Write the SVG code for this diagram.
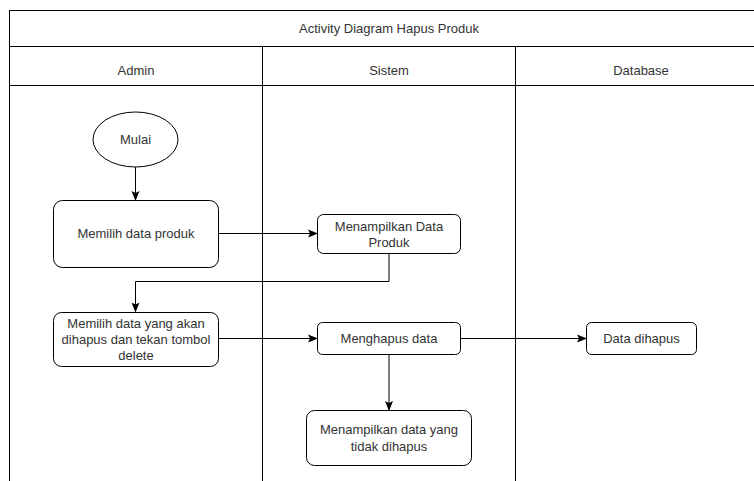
<svg xmlns="http://www.w3.org/2000/svg" width="754" height="481" viewBox="0 0 754 481">
<style>
.ln{stroke:#000;stroke-width:1;fill:none}
.nd{fill:#fff;stroke:#000;stroke-width:1}
.t{font-family:"Liberation Sans",Arial,sans-serif;font-size:13px;fill:#333;text-anchor:middle}
.c{stroke:#000;stroke-width:1;fill:none;marker-end:url(#ah)}
</style>
<defs>
<marker id="ah" viewBox="0 0 10 10" refX="9" refY="5" markerWidth="10" markerHeight="10" markerUnits="userSpaceOnUse" orient="auto">
<path d="M0,1 L10,5 L0,9 L2,5 Z" fill="#000"/>
</marker>
</defs>
<rect width="754" height="481" fill="#fff"/>
<g id="pool">
<rect x="9.5" y="10.5" width="760" height="480" class="ln"/>
<line x1="9.5" y1="46.5" x2="769" y2="46.5" class="ln"/>
<line x1="9.5" y1="85.5" x2="769" y2="85.5" class="ln"/>
<line x1="262.5" y1="46.5" x2="262.5" y2="481" class="ln"/>
<line x1="515.5" y1="46.5" x2="515.5" y2="481" class="ln"/>
<text class="t" x="389" y="33">Activity Diagram Hapus Produk</text>
<text class="t" x="136" y="75">Admin</text>
<text class="t" x="389" y="75">Sistem</text>
<text class="t" x="641" y="75">Database</text>
</g>
<g id="connectors">
<path class="c" d="M135.5,167 V200"/>
<path class="c" d="M218,233.5 H317"/>
<path class="c" d="M389,253 V281.5 H135.5 V311.5"/>
<path class="c" d="M218,338.5 H317"/>
<path class="c" d="M460,338.5 H586"/>
<path class="c" d="M389,354 V410"/>
</g>
<g id="mulai">
<ellipse class="nd" cx="135.5" cy="139.5" rx="42.5" ry="27.5"/>
<text class="t" x="135.5" y="144">Mulai</text>
</g>
<g id="memilih-produk">
<rect class="nd" x="53.5" y="200.5" width="165" height="67" rx="9"/>
<text class="t" x="136" y="238">Memilih data produk</text>
</g>
<g id="menampilkan-produk">
<rect class="nd" x="317.5" y="214.5" width="143" height="39" rx="6"/>
<text class="t" x="389" y="230.5">Menampilkan Data</text>
<text class="t" x="389" y="246.5">Produk</text>
</g>
<g id="memilih-hapus">
<rect class="nd" x="53.5" y="312.5" width="165" height="54" rx="8"/>
<text class="t" x="136" y="327.5">Memilih data yang akan</text>
<text class="t" x="136" y="343.5">dihapus dan tekan tombol</text>
<text class="t" x="136" y="359.5">delete</text>
</g>
<g id="menghapus">
<rect class="nd" x="317.5" y="322.5" width="143" height="32" rx="5"/>
<text class="t" x="389" y="343">Menghapus data</text>
</g>
<g id="data-dihapus">
<rect class="nd" x="586.5" y="322.5" width="110" height="32" rx="5"/>
<text class="t" x="641.5" y="343">Data dihapus</text>
</g>
<g id="menampilkan-sisa">
<rect class="nd" x="306.5" y="410.5" width="165" height="55" rx="8"/>
<text class="t" x="389" y="434">Menampilkan data yang</text>
<text class="t" x="389" y="450.5">tidak dihapus</text>
</g>
</svg>
